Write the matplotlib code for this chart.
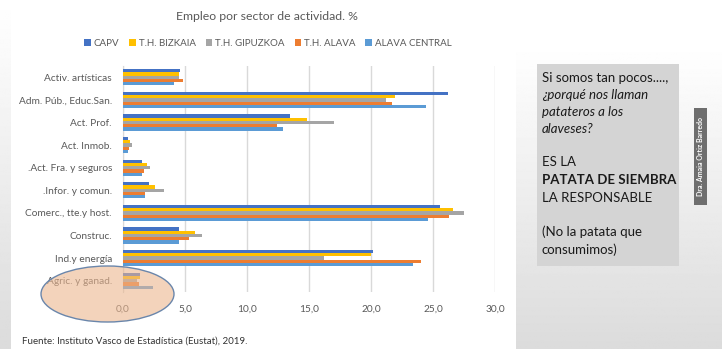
import matplotlib
matplotlib.use("Agg")
import matplotlib.pyplot as plt
import numpy as np
from matplotlib.patches import Ellipse, Rectangle
from matplotlib.ticker import FuncFormatter

plt.rcParams['font.family'] = ['Lato', 'DejaVu Sans']

# datos (% empleo por sector)
categories = ["Activ. artísticas", "Adm. Púb., Educ.San.", "Act. Prof.", "Act. Inmob.",
              ".Act. Fra. y seguros", ".Infor. y comun.", "Comerc., tte.y host.",
              "Construc.", "Ind.y energía", "Agric. y ganad."]
series_names = ["CAPV", "T.H. BIZKAIA", "T.H. GIPUZKOA", "T.H. ALAVA", "ALAVA CENTRAL"]
capv = [4.6, 26.2, 13.5, 0.4, 1.5, 2.1, 25.6, 4.5, 20.2, 1.4]
bizkaia = [4.5, 21.9, 14.8, 0.6, 1.9, 2.6, 26.6, 5.8, 20.0, 1.4]
gipuzkoa = [4.5, 21.2, 17.0, 0.7, 2.2, 3.3, 27.5, 6.4, 16.2, 1.1]
alava = [4.8, 21.7, 12.4, 0.5, 1.7, 1.8, 26.3, 5.3, 24.0, 1.3]
alava_central = [4.1, 24.4, 12.9, 0.4, 1.5, 1.8, 24.6, 4.5, 23.4, 2.4]
xticks = [0, 5, 10, 15, 20, 25, 30]

colors = ["#4472C4", "#FFC000", "#A5A5A5", "#ED7D31", "#5B9BD5"]

W, H = 722, 349
fig = plt.figure(figsize=(W / 100, H / 100), dpi=100)
fig.patch.set_facecolor("white")


def fx(px):
    return px / W


def fy(py):
    return 1 - py / H


# fondo de la diapositiva
bg = fig.add_axes([0, 0, 1, 1], zorder=-10)
grad = np.linspace(1.0, 0.86, 256).reshape(-1, 1)
bg.imshow(grad, cmap="gray", vmin=0, vmax=1, extent=[0, 11, H, 0], aspect="auto")
bg.imshow(grad, cmap="gray", vmin=0, vmax=1, extent=[516, W, H, 43], aspect="auto")
bg.set_xlim(0, W)
bg.set_ylim(H, 0)
bg.axis("off")

# grafico
ax = fig.add_axes([fx(123), fy(292), fx(495) - fx(123), (292 - 66) / H])
y = np.arange(len(categories))
bh = 0.145
all_series = [capv, bizkaia, gipuzkoa, alava, alava_central]
for i, (vals, name) in enumerate(zip(all_series, series_names)):
    ax.barh(y + (i - 2) * bh, vals, height=bh, color=colors[i], label=name, zorder=3)

ax.set_xlim(0, 30)
ax.set_ylim(len(categories) - 0.5, -0.5)
ax.set_xticks(xticks)
ax.xaxis.set_major_formatter(FuncFormatter(lambda v, p: f"{v:.1f}".replace(".", ",")))
ax.set_yticks(y)
ax.set_yticklabels(categories)
ax.tick_params(axis="both", length=0, labelsize=7.3, labelcolor="#595959")
ax.tick_params(axis="y", pad=8)
ax.tick_params(axis="x", pad=9)
ax.grid(axis="x", color="#d9d9d9", linewidth=1, zorder=0)
for s in ["top", "right", "bottom"]:
    ax.spines[s].set_visible(False)
ax.spines["left"].set_color("#d9d9d9")
ax.set_facecolor("none")

fig.text(fx(267), fy(17), "Empleo por sector de actividad. %", ha="center", va="center",
         fontsize=8.8, color="#595959")
fig.legend(loc="center", bbox_to_anchor=(fx(268), fy(43)), ncol=5, frameon=False,
           fontsize=7, handlelength=0.7, handleheight=0.7, handletextpad=0.3,
           columnspacing=1.0, labelcolor="#595959")

fig.text(fx(22), fy(341), "Fuente: Instituto Vasco de Estadística (Eustat), 2019.",
         ha="left", va="center", fontsize=7, color="#333333")

# elipse sobre agricultura
ell = Ellipse((fx(107.5), fy(294)), 133 / W, 56 / H, transform=fig.transFigure,
              facecolor="#ebb68f", alpha=0.6, edgecolor="none", zorder=5)
fig.patches.append(ell)
ell2 = Ellipse((fx(107.5), fy(294)), 133 / W, 56 / H, transform=fig.transFigure,
               facecolor="none", edgecolor="#6a86ab", linewidth=1.0, zorder=6)
fig.patches.append(ell2)

# recuadro de texto
fig.patches.append(Rectangle((fx(537), fy(266)), fx(679) - fx(537), 202 / H,
                             transform=fig.transFigure, facecolor="#d4d4d4",
                             edgecolor="none", zorder=1))
lines = [
    ("Si somos tan pocos....,", "normal", "normal", 78),
    ("¿porqué nos llaman", "italic", "normal", 95),
    ("patateros a los", "italic", "normal", 112),
    ("alaveses?", "italic", "normal", 129),
    ("ES LA", "normal", "normal", 162),
    ("PATATA DE SIEMBRA", "normal", "bold", 180),
    ("LA RESPONSABLE", "normal", "normal", 198),
    ("(No la patata que", "normal", "normal", 232),
    ("consumimos)", "normal", "normal", 250),
]
for txt, st, wt, py in lines:
    fig.text(fx(542), fy(py), txt, ha="left", va="center", fontsize=9.5,
             style=st, weight=wt, color="#1a1a1a", zorder=2)

# firma vertical
fig.patches.append(Rectangle((fx(694), fy(205)), fx(707) - fx(694), 97 / H,
                             transform=fig.transFigure, facecolor="#6e6e6e",
                             edgecolor="none", zorder=1))
fig.text(fx(700.5), fy(156.5), "Dra. Amaia Ortiz Barredo", rotation=90, ha="center",
         va="center", fontsize=5, weight="bold", color="white", zorder=2)

fig.savefig("out.png", dpi=100)
